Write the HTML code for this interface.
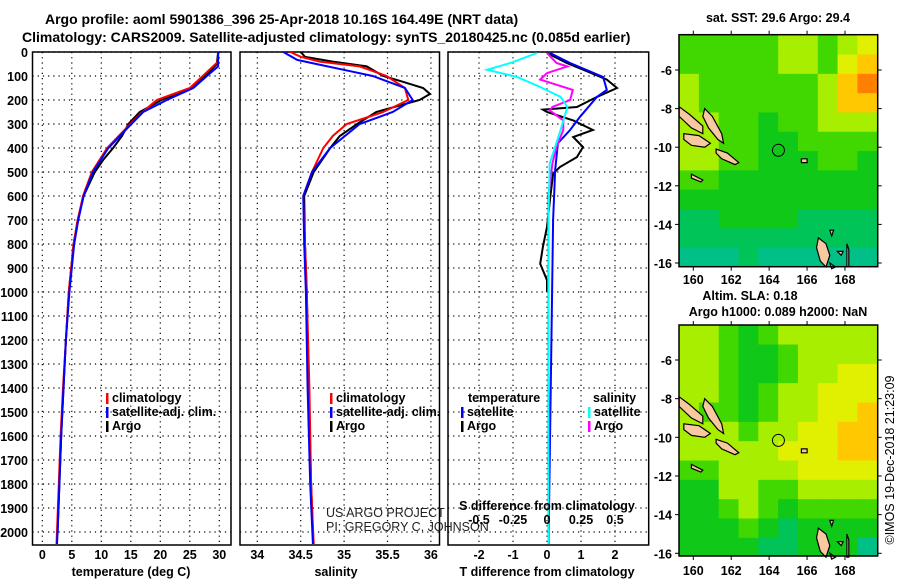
<!DOCTYPE html>
<html><head><meta charset="utf-8">
<style>
html,body{margin:0;padding:0;background:#fff;}
svg{display:block;font-family:"Liberation Sans",sans-serif;}
.b{font-weight:bold;font-size:12.5px;fill:#000;}
.t{font-weight:bold;font-size:14px;fill:#000;}
</style></head>
<body>
<svg id="c" width="900" height="580" viewBox="0 0 900 580" xmlns="http://www.w3.org/2000/svg">
<text class="t" x="45" y="24">Argo profile: aoml 5901386_396 25-Apr-2018 10.16S 164.49E (NRT data)</text>
<text class="t" x="22" y="42">Climatology: CARS2009. Satellite-adjusted climatology: synTS_20180425.nc (0.085d earlier)</text>
<text class="b" x="778" y="22" text-anchor="middle">sat. SST: 29.6 Argo: 29.4</text>
<text class="b" x="750" y="300" text-anchor="middle">Altim. SLA: 0.18</text>
<text class="b" x="778" y="316" text-anchor="middle">Argo h1000: 0.089 h2000: NaN</text>
<text x="894" y="460" font-size="12.5" text-anchor="middle" transform="rotate(-90 894 460)">©IMOS 19-Dec-2018 21:23:09</text>
<g id="g"></g>
</svg>
<script>
// ---------- data ----------
const tClimDepth=[0,40,100,150,200,250,300,400,500,600,700,800,1000,1200,1400,1600,1800,2000,2050];
const tClimVal=[29.8,29.8,27.2,25.0,19.4,17.0,14.9,11.0,8.4,6.9,6.0,5.3,4.5,4.0,3.5,3.1,2.8,2.5,2.4];
const tSatDepth=[0,60,100,150,200,250,300,400,500,600,700,800,1000,1200,1400,1600,1800,2000,2050];
const tSatVal=[29.8,29.8,27.9,25.6,21.1,17.1,15.1,11.2,8.6,7.0,6.1,5.4,4.6,4.0,3.6,3.2,2.9,2.6,2.5];
const tArgoDepth=[0,50,100,150,200,250,300,350,400,450,500,600,700,800,1000,1200,1400,1600,1800,2000];
const tArgoVal=[29.8,29.6,27.6,25.4,20.2,16.5,14.6,13.5,12.0,10.3,8.9,7.0,6.0,5.3,4.5,4.0,3.6,3.2,2.9,2.6];

const sClimDepth=[0,20,40,60,100,150,200,250,300,350,400,500,600,800,1000,1400,1800,2050];
const sClimVal=[34.38,34.5,34.72,35.18,35.49,35.7,35.74,35.45,35.03,34.87,34.76,34.63,34.53,34.55,34.57,34.6,34.62,34.65];
const sSatDepth=[0,33,50,80,100,150,200,250,300,400,500,600,800,1000,1400,1800,2050];
const sSatVal=[34.3,34.46,34.68,35.07,35.33,35.7,35.79,35.56,35.18,34.84,34.63,34.53,34.54,34.56,34.58,34.61,34.64];
const sArgoDepth=[0,20,40,60,100,120,150,175,200,250,300,350,400,500,600,800,1000,1400,1800,2000];
const sArgoVal=[34.5,34.55,34.87,35.26,35.45,35.64,35.91,35.99,35.87,35.37,35.15,34.95,34.84,34.65,34.54,34.55,34.57,34.59,34.62,34.64];

const dTSatDepth=[4,46,104,158,187,270,325,380,490,700,1000,1500,2000,2050];
const dTSatVal=[0.09,0.68,1.65,1.76,1.47,0.97,0.68,0.32,0.24,0.18,0.15,0.1,0.05,0.05];
const dTArgoDepth=[4,46,80,115,150,187,229,240,250,285,325,354,396,438,479,507,600,729,812,882,951,1000];
const dTArgoVal=[0,0.58,1.17,1.76,2.06,1.47,0.88,-0.12,0,0.77,1.35,0.77,1.06,0.88,0.38,0.18,0.1,0,-0.12,-0.2,0,0];
const dSSatDepth=[4,46,74,104,146,187,229,325,465,700,1000,1500,2050];
const dSSatVal=[-0.074,-0.27,-0.44,-0.22,-0.05,0.1,0.15,0.1,0.02,0.01,0.01,0.01,0.01];
const dSArgoDepth=[4,46,60,88,115,158,200,229,243,285,325,396,465,600,1000,1500,2000];
const dSArgoVal=[0,0.07,0.15,0,-0.05,0.19,0.17,0.04,0.02,0.12,0.12,0.07,0.04,0.01,0.01,0.01,0.01];

const depthTicks=[0,100,200,300,400,500,600,700,800,900,1000,1100,1200,1300,1400,1500,1600,1700,1800,1900,2000];
const tTicks=[0,5,10,15,20,25,30];
const sTicks=[34,34.5,35,35.5,36];
const sTickLabels=["34","34.5","35","35.5","36"];
const dTTicks=[-2,-1,0,1,2];
const dSTicks=[-0.5,-0.25,0,0.25,0.5];
const dSTickLabels=["-0.5","-0.25","0","0.25","0.5"];
const lonTicks=[160,162,164,166,168];
const latTicks=[-6,-8,-10,-12,-14,-16];

const sstGrid=[
[5,5,5,5,5,6,6,5,6,7],
[5,5,5,5,5,6,6,5,7,8],
[6,5,5,5,5,5,5,6,8,9],
[6,5,5,5,5,5,5,6,8,8],
[6,6,5,5,4,5,5,6,6,6],
[6,6,5,5,4,4,5,5,5,5],
[6,6,5,5,4,4,4,5,5,4],
[5,5,4,4,4,4,4,4,4,4],
[4,4,4,4,4,4,4,4,4,4],
[3,3,4,4,4,4,3,3,3,3],
[3,3,3,3,3,3,3,3,3,3],
[2,2,2,3,2,2,2,2,2,2]];
const slaGrid=[
[6,6,5,4,5,6,6,6,6,6],
[6,6,5,4,4,5,6,6,6,6],
[6,6,5,4,4,5,6,6,7,7],
[6,6,5,4,5,6,6,7,7,7],
[6,5,5,4,5,6,6,7,7,8],
[6,6,6,5,6,6,7,7,8,8],
[6,6,6,6,6,7,7,7,8,8],
[5,5,6,6,6,6,7,7,7,7],
[4,4,6,6,5,5,6,6,6,6],
[4,4,5,6,5,4,5,5,5,5],
[4,4,4,5,4,3,4,4,4,4],
[4,4,4,4,3,3,4,4,4,2]];
const islands=[
[[159.25,-7.9],[159.8,-8.3],[160.5,-8.9],[160.5,-9.3],[159.9,-9.0],[159.25,-8.4]],
[[160.6,-8.0],[161.0,-8.4],[161.5,-9.3],[161.6,-9.8],[161.3,-9.6],[160.8,-9.0],[160.5,-8.4]],
[[159.5,-9.3],[160.3,-9.4],[160.9,-9.8],[160.6,-10.0],[159.9,-9.9],[159.5,-9.6]],
[[161.2,-10.1],[161.8,-10.3],[162.4,-10.8],[162.2,-10.9],[161.5,-10.6],[161.2,-10.3]],
[[159.9,-11.4],[160.5,-11.7],[160.4,-11.8],[159.9,-11.6]],
[[165.7,-10.6],[166.0,-10.6],[166.0,-10.8],[165.7,-10.8]],
[[166.6,-14.7],[167.0,-15.0],[167.2,-15.6],[167.0,-16.2],[166.7,-15.9],[166.5,-15.2]],
[[167.2,-16.0],[167.5,-16.2],[167.3,-16.3]],
[[167.6,-15.4],[167.9,-15.4],[167.8,-15.6]],
[[168.1,-15.0],[168.2,-15.3],[168.2,-16.2],[168.1,-16.2]],
[[167.2,-14.3],[167.4,-14.3],[167.3,-14.6]]];

// ---------- drawing ----------
const NS='http://www.w3.org/2000/svg';
const G=document.getElementById('g');
function mk(tag,attrs,parent){const e=document.createElementNS(NS,tag);for(const k in attrs)e.setAttribute(k,attrs[k]);(parent||G).appendChild(e);return e;}
const Y0=52,Y1=545,D2Y=d=>Y0+d*0.24;
function mkText(x,y,s,anchor,cls){const e=mk('text',{x:x,y:y,'text-anchor':anchor||'start',class:cls||'b'});e.textContent=s;return e;}

function panel(name,x0,x1,xf,ticks,labels,labelY,showDepthLabels){
  const g=mk('g',{});
  
  
  ticks.forEach((t,i)=>{const x=xf(t);
    const l=mk('line',{x1:x,x2:x,y1:Y0,y2:Y1,stroke:'#000','stroke-dasharray':'1.2 4','stroke-width':1.2},g);
    
    
    if(labels){const tx=mkText(x,labelY,labels[i],'middle');g.appendChild(tx);
      
      }
  });
  depthTicks.forEach(d=>{const y=D2Y(d);
    const l=mk('line',{x1:x0,x2:x1,y1:y,y2:y,stroke:'#000','stroke-dasharray':'1.2 4','stroke-width':1.2},g);
    
    
    if(showDepthLabels){const tx=mkText(28,y+5,String(d),'end');g.appendChild(tx);
      
      }
  });
  const r=mk('rect',{x:x0,y:Y0,width:x1-x0,height:Y1-Y0,fill:'none',stroke:'#000','stroke-width':1.5},g);
  
  
  return g;
}
function line(g,name,depths,vals,xf,color,w){
  const pts=depths.map((d,i)=>xf(vals[i]).toFixed(1)+','+D2Y(d).toFixed(1)).join(' ');
  const p=mk('polyline',{points:pts,fill:'none',stroke:color,'stroke-width':w||2},g);
  
  
}
function legend(g,x,y,items){
  items.forEach((it,i)=>{
    const r=mk('rect',{x:x,y:y+i*14-9,width:2.5,height:11,fill:it[1]},g);
    
    
    const t=mkText(x+6,y+i*14,it[0]);g.appendChild(t);
    
    
  });
}

const xT=v=>42.3+v*5.9;
const p1=panel('temperature-panel',32.5,231,xT,tTicks,tTicks.map(String),559,true);
line(p1,'argo-temperature',tArgoDepth,tArgoVal,xT,'#000',2);
line(p1,'climatology-temperature',tClimDepth,tClimVal,xT,'#f00',2);
line(p1,'satellite-temperature',tSatDepth,tSatVal,xT,'#00f',2);
legend(p1,106,402,[['climatology','#f00'],['satellite-adj. clim.','#00f'],['Argo','#000']]);
let tt=mkText(131,576,'temperature (deg C)','middle');

const xS=v=>257.3+(v-34)*86.8;
const p2=panel('salinity-panel',240,439.5,xS,sTicks,sTickLabels,559,false);
line(p2,'argo-salinity',sArgoDepth,sArgoVal,xS,'#000',2);
line(p2,'climatology-salinity',sClimDepth,sClimVal,xS,'#f00',2);
line(p2,'satellite-salinity',sSatDepth,sSatVal,xS,'#00f',2);
legend(p2,330,402,[['climatology','#f00'],['satellite-adj. clim.','#00f'],['Argo','#000']]);
tt=mkText(336,576,'salinity','middle');
[['US ARGO PROJECT',517],['PI: GREGORY C. JOHNSON',531]].forEach(a=>{const e=mk('text',{x:326,y:a[1],'font-size':12.5,fill:'#222'});e.textContent=a[0];
  
  });

const xDT=v=>547+v*34;
const xDS=v=>547+v*136;
const p3=panel('difference-panel',448,648.7,xDT,dTTicks,dTTicks.map(String),559,false);
line(p3,'argo-temperature-difference',dTArgoDepth,dTArgoVal,xDT,'#000',2);
line(p3,'satellite-temperature-difference',dTSatDepth,dTSatVal,xDT,'#00f',2);
line(p3,'argo-salinity-difference',dSArgoDepth,dSArgoVal,xDS,'#f0f',2);
line(p3,'satellite-salinity-difference',dSSatDepth,dSSatVal,xDS,'#0ff',2);
dSTicks.forEach((v,i)=>{const t=mkText(xDS(v),524,dSTickLabels[i],'middle');p3.appendChild(t);
  
  });
tt=mkText(547,510,'S difference from climatology','middle');
tt=mkText(547,576,'T difference from climatology','middle');
tt=mkText(468,402,'temperature');
tt=mkText(593,402,'salinity');
legend(p3,461,416,[['satellite','#00f'],['Argo','#000']]);
legend(p3,588,416,[['satellite','#0ff'],['Argo','#f0f']]);

const pal=['#00c8d0','#00c4b0','#00c088','#00c458','#10c818','#40d800','#a8ee00','#e0f000','#ffc800','#ff8000','#c00000'];
const LON0=159.25,LON1=169.7,LAT0=-4.2,LAT1=-16.2;
function map(name,top,bot,grid,latAt6,latAt16,labelY){
  const X0=679,X1=877.7;
  const lx=v=>693.3+(v-160)*18.96;
  const ly=v=>latAt6+(v+6)*(latAt16-latAt6)/(-10);
  const g=mk('g',{});
  
  
  const cw=(LON1-LON0)/grid[0].length, ch=(LAT0-LAT1)/grid.length;
  grid.forEach((row,r)=>row.forEach((v,c)=>{
    const x=lx(LON0+c*cw), y=Math.max(top,ly(LAT0-r*ch));
    const y2=r==grid.length-1?bot:ly(LAT0-(r+1)*ch);
    const x2=c==row.length-1?X1:lx(LON0+(c+1)*cw);
    const e=mk('rect',{x:x,y:r==0?top:y,width:x2-x+0.5,height:y2-(r==0?top:y)+0.5,fill:pal[v]},g);
    
    
  }));
  islands.forEach(poly=>{
    const e=mk('polygon',{points:poly.map(p=>lx(p[0]).toFixed(1)+','+ly(p[1]).toFixed(1)).join(' '),fill:'#f8c8a0',stroke:'#000','stroke-width':1.2},g);
    
    
  });
  const c=mk('circle',{cx:lx(164.49),cy:ly(-10.16),r:6,fill:'none',stroke:'#000','stroke-width':1},g);
  
  
  const fr=mk('rect',{x:X0,y:top,width:X1-X0,height:bot-top,fill:'none',stroke:'#000','stroke-width':1.5},g);
  
  
  lonTicks.forEach(v=>{const x=lx(v);
    mk('line',{x1:x,x2:x,y1:top,y2:top-4,stroke:'#000'},g);
    mk('line',{x1:x,x2:x,y1:bot,y2:bot+4,stroke:'#000'},g);
    const t=mkText(x,labelY,String(v),'middle');g.appendChild(t);
    
    });
  latTicks.forEach(v=>{const y=ly(v);
    mk('line',{x1:X0-4,x2:X0,y1:y,y2:y,stroke:'#000'},g);
    mk('line',{x1:X1,x2:X1+4,y1:y,y2:y,stroke:'#000'},g);
    const t=mkText(672,y+5,String(v),'end');g.appendChild(t);
    
    });
}
map('sst-map',34.7,266.7,sstGrid,70,263,284);
map('sla-map',325,556,slaGrid,360,553.3,575);
</script>
</body></html>
